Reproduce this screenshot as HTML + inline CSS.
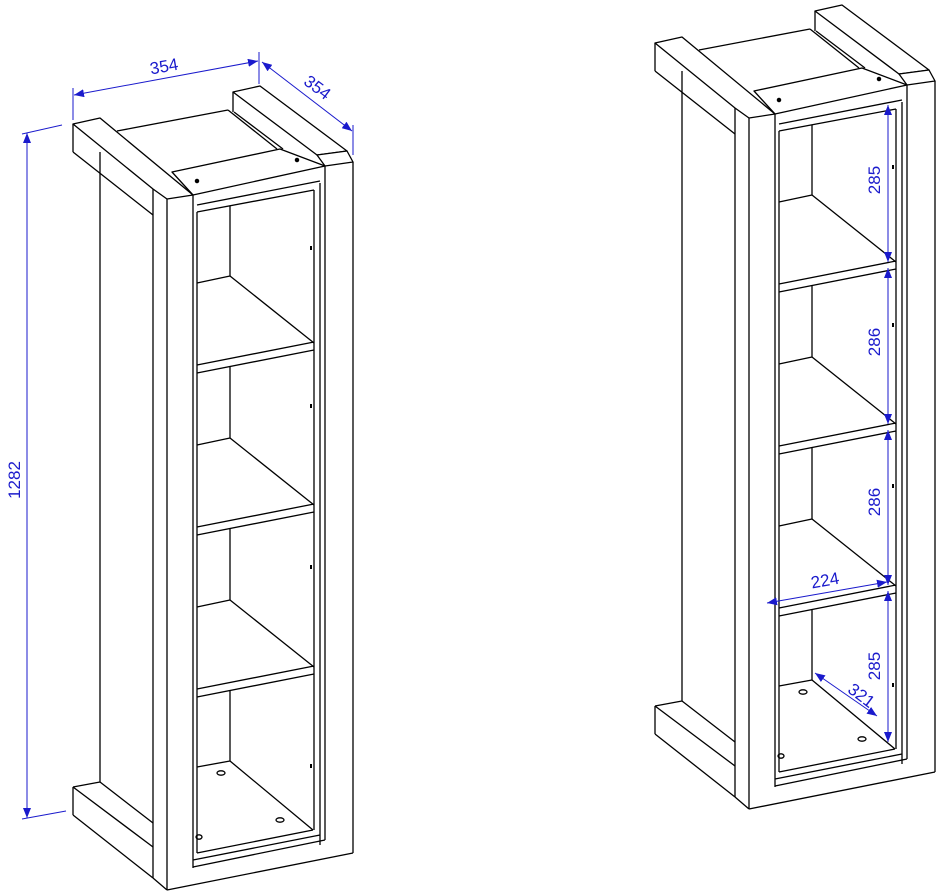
<!DOCTYPE html>
<html><head><meta charset="utf-8"><style>
html,body{margin:0;padding:0;background:#fff;}
svg{display:block;}
text{font-family:"Liberation Sans",sans-serif;font-size:17px;fill:#1a1acc;}
</style></head><body>
<svg width="941" height="894" viewBox="0 0 941 894" xmlns="http://www.w3.org/2000/svg">
<defs>
<marker id="ar" markerWidth="10" markerHeight="8" refX="10" refY="4" orient="auto-start-reverse" markerUnits="userSpaceOnUse">
<path d="M0,0 L10,4 L0,8 z" fill="#1a1acc"/></marker>
<g id="cab" fill="none" stroke="#000" stroke-width="1.3" stroke-linejoin="round">
<!-- left top beam -->
<line x1="73" y1="124" x2="73" y2="152"/>
<line x1="73" y1="152" x2="153" y2="215"/>
<line x1="100" y1="152" x2="100" y2="782"/>
<polygon points="73,124 100,118 193,195 167,199 153,189" fill="#fff"/>
<!-- top panel -->
<line x1="117" y1="131" x2="228" y2="110"/>
<line x1="228" y1="110" x2="277" y2="149"/>
<line x1="234" y1="112" x2="283" y2="149"/>
<!-- right beam -->
<polygon points="233,92 260,86 347,151 317,155" fill="#fff"/>
<line x1="233" y1="92" x2="233" y2="112"/>
<polygon points="317,155 347,151 353,162 325,166" fill="#fff"/>
<!-- front rail top -->
<polygon points="172,172 280,149 325,166 193,195" fill="#fff"/>
<circle cx="197" cy="181" r="1.6" fill="#000"/>
<circle cx="297" cy="160" r="1.6" fill="#000"/>
<!-- posts -->
<line x1="153" y1="189" x2="153" y2="878"/>
<line x1="167" y1="199" x2="167" y2="890"/>
<line x1="193" y1="195" x2="193" y2="868"/>
<line x1="314" y1="190" x2="314" y2="830"/>
<line x1="320" y1="183" x2="320" y2="845"/>
<line x1="325" y1="166" x2="325" y2="840"/>
<line x1="353" y1="162" x2="353" y2="853"/>
<line x1="197" y1="205" x2="320" y2="181"/>
<line x1="197" y1="212" x2="314" y2="190"/>
<line x1="197" y1="212" x2="197" y2="853"/>
<!-- compartments -->
<line x1="230" y1="206" x2="230" y2="276"/>
<line x1="197" y1="283" x2="230" y2="276"/>
<line x1="230" y1="276" x2="314" y2="343"/>
<line x1="197" y1="365" x2="314" y2="342"/>
<line x1="197" y1="373" x2="314" y2="350"/>
<line x1="230" y1="367" x2="230" y2="438"/>
<line x1="197" y1="445" x2="230" y2="438"/>
<line x1="230" y1="438" x2="314" y2="505"/>
<line x1="197" y1="527" x2="314" y2="504"/>
<line x1="197" y1="535" x2="314" y2="512"/>
<line x1="230" y1="529" x2="230" y2="600"/>
<line x1="197" y1="607" x2="230" y2="600"/>
<line x1="230" y1="600" x2="314" y2="667"/>
<line x1="197" y1="689" x2="314" y2="666"/>
<line x1="197" y1="697" x2="314" y2="674"/>
<line x1="230" y1="691" x2="230" y2="761"/>
<line x1="197" y1="767" x2="230" y2="761"/>
<line x1="230" y1="761" x2="313" y2="830"/>
<line x1="197" y1="853" x2="313" y2="830"/>
<ellipse cx="221" cy="773" rx="4" ry="2.2"/>
<ellipse cx="280" cy="820" rx="4" ry="2.2"/>
<ellipse cx="199" cy="837" rx="3" ry="2.2"/>
<rect x="310" y="246" width="2" height="4" fill="#000" stroke="none"/>
<rect x="310" y="404" width="2" height="4" fill="#000" stroke="none"/>
<rect x="310" y="565" width="2" height="4" fill="#000" stroke="none"/>
<rect x="310" y="764" width="2" height="4" fill="#000" stroke="none"/>
<!-- bottom rail -->
<line x1="193" y1="867" x2="325" y2="840"/>
<line x1="193" y1="860" x2="320" y2="835"/>
<line x1="167" y1="890" x2="353" y2="853"/>
<line x1="153" y1="878" x2="167" y2="890"/>
<!-- base beam -->
<line x1="73" y1="787" x2="100" y2="782"/>
<line x1="73" y1="787" x2="73" y2="815"/>
<line x1="73" y1="815" x2="153" y2="878"/>
<line x1="73" y1="787" x2="153" y2="847"/>
<line x1="100" y1="782" x2="153" y2="823"/>
</g>
</defs>
<use href="#cab"/>
<use href="#cab" transform="translate(582,-81)"/>
<g stroke="#1a1acc" stroke-width="1" fill="none">
<line x1="73" y1="88" x2="73" y2="120"/>
<line x1="259" y1="52" x2="259" y2="84"/>
<line x1="74" y1="95" x2="258" y2="61" marker-start="url(#ar)" marker-end="url(#ar)"/>
<line x1="353" y1="125" x2="353" y2="155"/>
<line x1="262" y1="62" x2="352" y2="131" marker-start="url(#ar)" marker-end="url(#ar)"/>
<line x1="22" y1="134" x2="62" y2="125"/>
<line x1="22" y1="819" x2="66" y2="811"/>
<line x1="27" y1="133" x2="27" y2="818" marker-start="url(#ar)" marker-end="url(#ar)"/>
<line x1="888" y1="105" x2="888" y2="262" marker-start="url(#ar)" marker-end="url(#ar)"/>
<line x1="888" y1="268" x2="888" y2="424" marker-start="url(#ar)" marker-end="url(#ar)"/>
<line x1="888" y1="430" x2="888" y2="585" marker-start="url(#ar)" marker-end="url(#ar)"/>
<line x1="888" y1="591" x2="888" y2="742" marker-start="url(#ar)" marker-end="url(#ar)"/>
<line x1="767" y1="603" x2="887" y2="582" marker-start="url(#ar)" marker-end="url(#ar)"/>
<line x1="815" y1="673" x2="877" y2="716" marker-start="url(#ar)" marker-end="url(#ar)"/>
</g>
<text x="165" y="72" text-anchor="middle" transform="rotate(-10 165 72)">354</text>
<text x="314" y="92" text-anchor="middle" transform="rotate(37 314 92)">354</text>
<text x="20" y="480" text-anchor="middle" transform="rotate(-90 20 480)">1282</text>
<text x="880" y="180" text-anchor="middle" transform="rotate(-90 880 180)">285</text>
<text x="880" y="342" text-anchor="middle" transform="rotate(-90 880 342)">286</text>
<text x="880" y="502" text-anchor="middle" transform="rotate(-90 880 502)">286</text>
<text x="880" y="666" text-anchor="middle" transform="rotate(-90 880 666)">285</text>
<text x="826" y="586" text-anchor="middle" transform="rotate(-10 826 586)">224</text>
<text x="858" y="700" text-anchor="middle" transform="rotate(37 858 700)">321</text>
</svg>
</body></html>
